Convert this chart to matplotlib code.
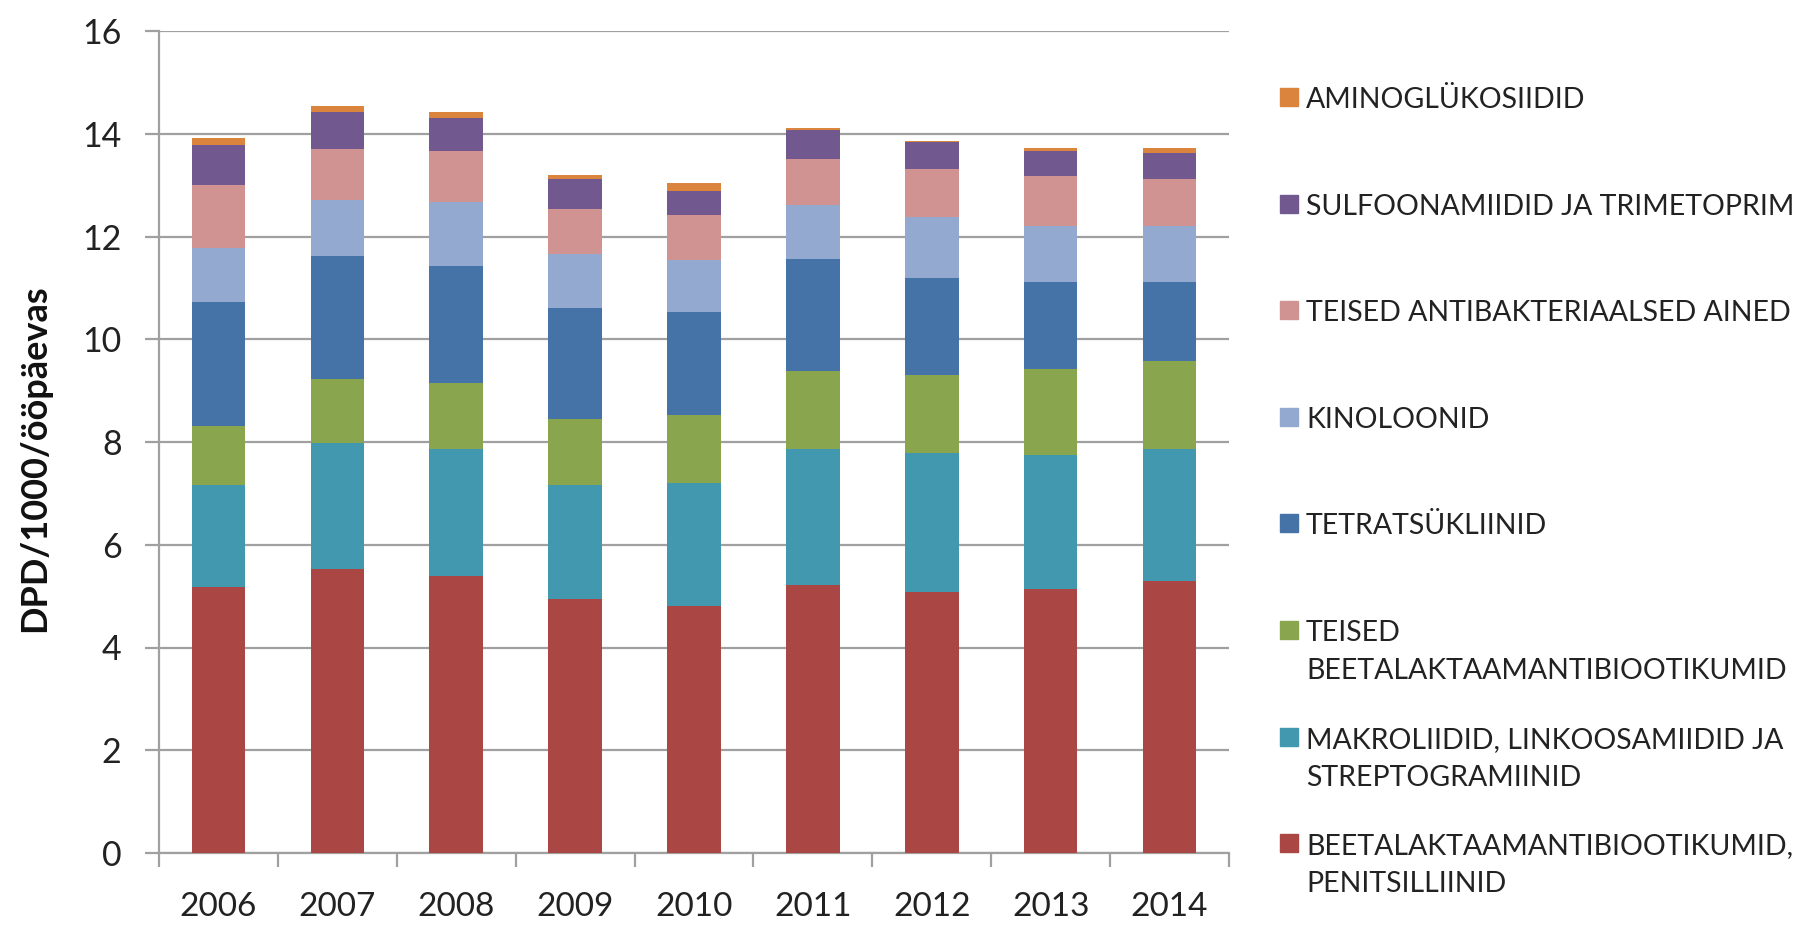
import matplotlib
matplotlib.use("Agg")
import matplotlib.pyplot as plt
import numpy as np
from matplotlib.patches import Rectangle

plt.rcParams['font.family'] = ['Lato', 'DejaVu Sans']

years = ['2006', '2007', '2008', '2009', '2010', '2011', '2012', '2013', '2014']

# kihid alt üles
penitsilliinid = [5.17, 5.52, 5.40, 4.94, 4.81, 5.21, 5.09, 5.14, 5.29]
makroliidid = [1.99, 2.46, 2.46, 2.22, 2.39, 2.65, 2.69, 2.60, 2.57]
teised_beeta = [1.16, 1.25, 1.29, 1.28, 1.32, 1.53, 1.53, 1.69, 1.72]
tetratsykliinid = [2.41, 2.40, 2.28, 2.17, 2.01, 2.17, 1.89, 1.69, 1.54]
kinoloonid = [1.05, 1.09, 1.25, 1.05, 1.02, 1.05, 1.17, 1.09, 1.09]
teised_antibakt = [1.23, 0.99, 0.98, 0.87, 0.86, 0.90, 0.94, 0.96, 0.91]
sulfoonamiidid = [0.78, 0.71, 0.64, 0.58, 0.48, 0.56, 0.52, 0.50, 0.51]
aminoglykosiidid = [0.13, 0.12, 0.12, 0.09, 0.15, 0.04, 0.03, 0.05, 0.09]

series = [penitsilliinid, makroliidid, teised_beeta, tetratsykliinid,
          kinoloonid, teised_antibakt, sulfoonamiidid, aminoglykosiidid]
labels = ['BEETALAKTAAMANTIBIOOTIKUMID,\nPENITSILLIINID',
          'MAKROLIIDID, LINKOOSAMIIDID JA\nSTREPTOGRAMIINID',
          'TEISED\nBEETALAKTAAMANTIBIOOTIKUMID',
          'TETRATSÜKLIINID',
          'KINOLOONID',
          'TEISED ANTIBAKTERIAALSED AINED',
          'SULFOONAMIIDID JA TRIMETOPRIM',
          'AMINOGLÜKOSIIDID']
colors = ['#AA4643', '#4198AF', '#89A54E', '#4572A7',
          '#93A9CF', '#D19392', '#71588F', '#DB843D']

W, H = 1804, 927
fig = plt.figure(figsize=(W / 100, H / 100), dpi=100)
ax = fig.add_axes([159 / W, 1 - 853 / H, (1229 - 159) / W, (853 - 31) / H])

x = np.arange(len(years))
bottom = np.zeros(len(years))
for vals, col in zip(series, colors):
    ax.bar(x, vals, width=0.45, bottom=bottom, color=col, zorder=3)
    bottom += np.array(vals)

grid_col = '#A0A0A0'
ax.set_xlim(-0.5, len(years) - 0.5)
ax.set_ylim(0, 16)
ax.set_yticks(np.arange(0, 17, 2))
ax.yaxis.grid(True, color=grid_col, linewidth=1.6, zorder=0)
ax.set_axisbelow(True)
for s in ['top', 'right']:
    ax.spines[s].set_visible(False)
for s in ['left', 'bottom']:
    ax.spines[s].set_color(grid_col)
    ax.spines[s].set_linewidth(1.6)

ax.set_xticks(x)
ax.set_xticklabels(years)
ax.set_xticks(np.arange(-0.5, len(years), 1), minor=True)
ax.tick_params(axis='x', which='major', length=0, pad=28, labelsize=24, labelcolor='#222222')
ax.tick_params(axis='x', which='minor', length=10, width=1.6, color=grid_col)
ax.tick_params(axis='y', length=10, width=1.6, color=grid_col, pad=17,
               labelsize=24.5, labelcolor='#222222')

fig.text(35 / W, 1 - 458 / H, 'DPD/1000/ööpäevas', rotation=90, fontsize=26,
         fontweight='bold', ha='center', va='center', color='#111111')

# legend käsitsi, ülevalt alla
cap = 22
for i, (lab, col) in enumerate(zip(labels[::-1], colors[::-1])):
    yc = 97 + i * 106.6
    fig.add_artist(Rectangle((1280 / W, 1 - (yc + 9) / H), 18 / W, 18 / H,
                             transform=fig.transFigure, color=col))
    for j, line in enumerate(lab.split('\n')):
        yb = yc + cap / 2 + j * 38
        fig.text(1306 / W, 1 - yb / H, line, fontsize=20.5, ha='left',
                 va='baseline', color='#222222')

fig.savefig('out.png', dpi=100)
